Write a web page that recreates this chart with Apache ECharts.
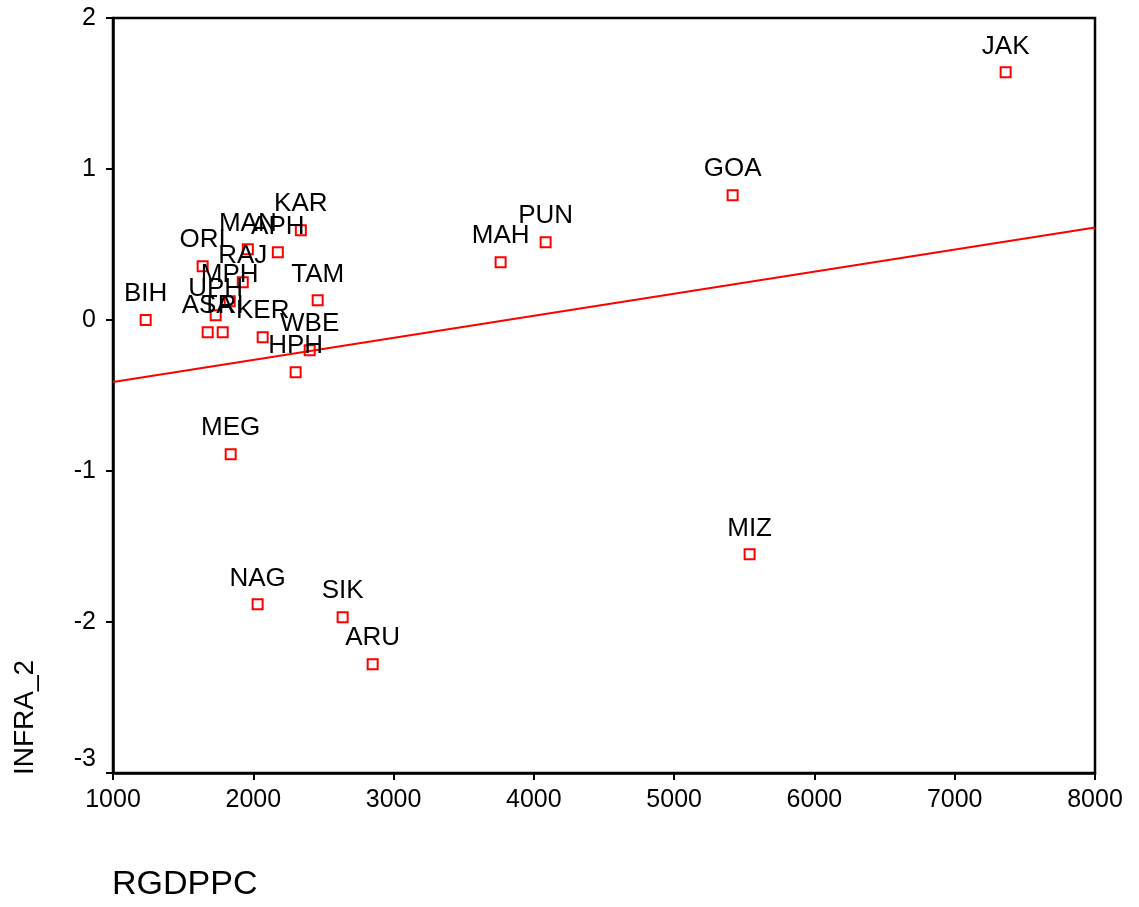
<!DOCTYPE html>
<html>
<head>
<meta charset="utf-8">
<script src="https://cdn.jsdelivr.net/npm/echarts@6/dist/echarts.min.js"></script>
<style>html,body{margin:0;padding:0;background:#fff;}#c{width:1139px;height:907px;}</style>
</head>
<body>
<div id="c"></div>
<script>
const states = ["JAK","GOA","PUN","MAH","MIZ","BIH","ORI","MAN","APH","KAR","RAJ","MPH","TAM","UPH","ASA","TRI","KER","WBE","HPH","MEG","NAG","SIK","ARU"];
const rgdppc = [7363,5417,4084,3763,5538,1233,1639,1961,2175,2339,1925,1832,2459,1732,1675,1782,2067,2402,2302,1839,2031,2637,2851];
const infra2 = [1.64,0.826,0.515,0.382,-1.552,0.0,0.356,0.468,0.448,0.594,0.25,0.124,0.13,0.031,-0.081,-0.081,-0.114,-0.2,-0.346,-0.889,-1.883,-1.969,-2.28];
const fitX = [1000, 8000];
const fitY = [-0.41, 0.612];
const xTicks = [1000,2000,3000,4000,5000,6000,7000,8000];
const yTicks = [-3,-2,-1,0,1,2];

const FONT = "Liberation Sans, Arial, sans-serif";
const chart = echarts.init(document.getElementById('c'));
chart.setOption({
  animation: false,
  backgroundColor: '#fff',
  grid: {left: 113, right: 44, top: 18, bottom: 134, show: true, borderColor: '#000', borderWidth: 2.5, backgroundColor: 'transparent'},
  xAxis: {
    type: 'value', min: 1000, max: 8000, interval: 1000,
    axisLine: {show: true, onZero: false, lineStyle: {color: '#000', width: 2.5}},
    axisTick: {show: true, length: 7, lineStyle: {color: '#000', width: 2}},
    axisLabel: {color: '#000', fontSize: 25, fontFamily: FONT, margin: 15,
      formatter: v => xTicks.includes(v) ? String(v) : ''},
    splitLine: {show: false}
  },
  yAxis: {
    type: 'value', min: -3, max: 2, interval: 1,
    axisLine: {show: true, onZero: false, lineStyle: {color: '#000', width: 2.5}},
    axisTick: {show: true, length: 7, lineStyle: {color: '#000', width: 2}},
    axisLabel: {color: '#000', fontSize: 25, fontFamily: FONT, margin: 17,
      formatter: v => v === -3 ? '{up|-3}' : (yTicks.includes(v) ? String(v) : ''),
      rich: {up: {fontSize: 25, fontFamily: FONT, color: '#000', padding: [0, 0, 28, 0]}}},
    splitLine: {show: false}
  },
  graphic: [
    {type: 'text', rotation: Math.PI/2, x: 11, y: 775,
      style: {text: 'INFRA_2', font: '28px ' + FONT, fill: '#000'}},
    {type: 'text', left: 112, top: 868, style: {text: 'RGDPPC', font: '34px ' + FONT, fill: '#000'}}
  ],
  series: [
    {
      type: 'line', data: fitX.map((x,i)=>[x, fitY[i]]), showSymbol: false, symbol: 'none',
      lineStyle: {color: '#ff0000', width: 2}, z: 2, silent: true
    },
    {
      type: 'scatter', symbol: 'rect', symbolSize: 10,
      data: rgdppc.map((x,i)=>({value: [x, infra2[i]], name: states[i]})),
      itemStyle: {color: 'rgba(255,255,255,0)', borderColor: '#ff0000', borderWidth: 2, opacity: 1},
      label: {show: true, position: 'top', distance: 7, formatter: p => p.name,
        color: '#000', fontSize: 26, fontFamily: FONT, opacity: 1},
      z: 3
    }
  ]
});
</script>
</body>
</html>
